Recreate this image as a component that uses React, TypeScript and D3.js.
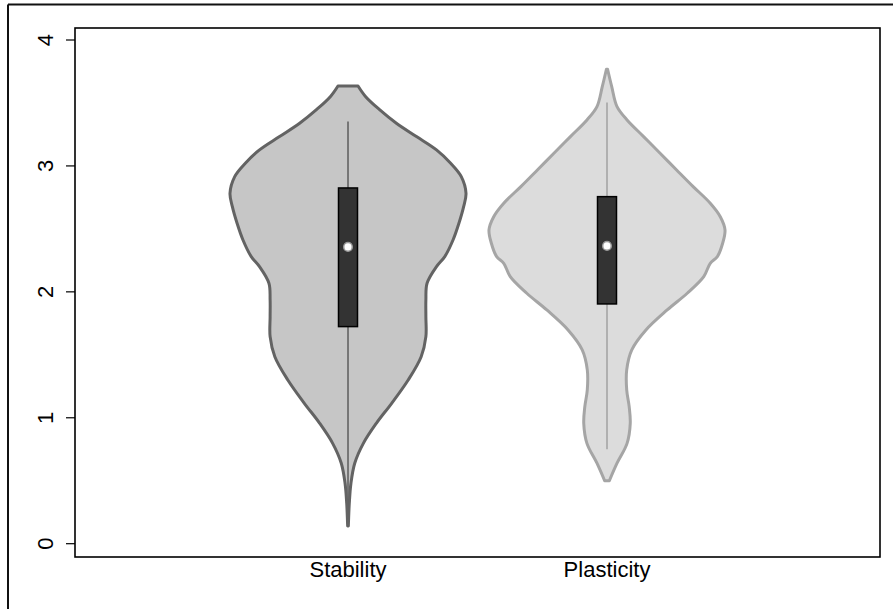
import React from "react";
import * as d3 from "d3";

const categories = ["Stability", "Plasticity"];
const yTicks = [0, 1, 2, 3, 4];

// Kernel density outlines (value, relative density)
const stabilityValues = [3.635, 3.55, 3.445, 3.339, 3.233, 3.127, 3.021, 2.915, 2.783, 2.677, 2.545, 2.412, 2.28, 2.2, 2.068, 1.936, 1.803, 1.644, 1.485, 1.3, 1.115, 0.956, 0.797, 0.639, 0.48, 0.321, 0.141];
const stabilityDensity = [0.085, 0.15, 0.27, 0.41, 0.58, 0.75, 0.87, 0.96, 1.0, 0.98, 0.94, 0.89, 0.82, 0.75, 0.67, 0.66, 0.66, 0.66, 0.62, 0.51, 0.37, 0.24, 0.13, 0.057, 0.025, 0.011, 0.003];
const plasticityValues = [3.768, 3.63, 3.471, 3.365, 3.233, 3.101, 2.968, 2.836, 2.704, 2.597, 2.492, 2.386, 2.28, 2.227, 2.121, 1.989, 1.856, 1.697, 1.539, 1.38, 1.221, 1.088, 0.956, 0.797, 0.639, 0.5];
const plasticityDensity = [0.005, 0.04, 0.085, 0.17, 0.31, 0.45, 0.59, 0.73, 0.875, 0.96, 1.0, 0.98, 0.935, 0.875, 0.82, 0.68, 0.51, 0.33, 0.21, 0.167, 0.167, 0.188, 0.197, 0.17, 0.085, 0.02];

// Box statistics: [whiskerLow, q1, median, q3, whiskerHigh]
const stabilityStats = [0.2, 1.724, 2.357, 2.825, 3.352];
const plasticityStats = [0.75, 1.904, 2.365, 2.756, 3.503];

const fills = ["#c6c6c6", "#dcdcdc"];
const strokes = ["#636363", "#a5a5a5"];

export default function App() {
  const W = 893, H = 609;
  const plot = { left: 75, right: 880, top: 28, bottom: 557 };
  const y = d3.scaleLinear().domain([0, 4]).range([543.7, 40]);
  const x = d3.scaleLinear().domain([1, 2]).range([348, 607]);
  const w = d3.scaleLinear().domain([0, 1]).range([0, 118]);

  const series = [
    { name: categories[0], vals: stabilityValues, dens: stabilityDensity, stats: stabilityStats },
    { name: categories[1], vals: plasticityValues, dens: plasticityDensity, stats: plasticityStats },
  ];

  return (
    <svg width={W} height={H} style={{ position: "absolute", left: 0, top: 0, background: "#fff" }}
      fontFamily="'Liberation Sans', Arial, sans-serif">
      {/* outer figure frame */}
      <line x1={8} x2={W} y1={4.5} y2={4.5} stroke="#111" strokeWidth={2} />
      <line x1={8} x2={8} y1={4.5} y2={H} stroke="#111" strokeWidth={2} />

      {series.map((s, i) => {
        const cx = x(i + 1);
        const pts = s.vals.map((v, j) => ({ v, d: s.dens[j] }));
        const area = d3.area<{ v: number; d: number }>()
          .y((p) => y(p.v))
          .x0((p) => cx - w(p.d))
          .x1((p) => cx + w(p.d))
          .curve(d3.curveCatmullRom);
        const [lo, q1, med, q3, hi] = s.stats;
        return (
          <g key={s.name}>
            <path d={area(pts) || ""} fill={fills[i]} stroke={strokes[i]} strokeWidth={3} strokeLinejoin="round" />
            <line x1={cx} x2={cx} y1={y(hi)} y2={y(lo)} stroke={strokes[i]} strokeWidth={1.6} />
            <rect x={cx - 9.5} width={19} y={y(q3)} height={y(q1) - y(q3)} fill="#333" stroke="#000" strokeWidth={1.5} />
            <circle cx={cx} cy={y(med)} r={4.3} fill="#fff" stroke="#999" strokeWidth={1.5} />
            <text x={cx} y={577} textAnchor="middle" fontSize={22} fill="#000">{s.name}</text>
          </g>
        );
      })}

      {/* plot box */}
      <rect x={plot.left} y={plot.top} width={plot.right - plot.left} height={plot.bottom - plot.top}
        fill="none" stroke="#000" strokeWidth={1.6} />

      {/* y axis ticks */}
      {yTicks.map((t) => (
        <g key={t}>
          <line x1={66} x2={plot.left} y1={y(t)} y2={y(t)} stroke="#000" strokeWidth={1.2} />
          <text x={53} y={y(t)} transform={`rotate(-90, 53, ${y(t)})`} textAnchor="middle" fontSize={22} fill="#000">{t}</text>
        </g>
      ))}
    </svg>
  );
}
